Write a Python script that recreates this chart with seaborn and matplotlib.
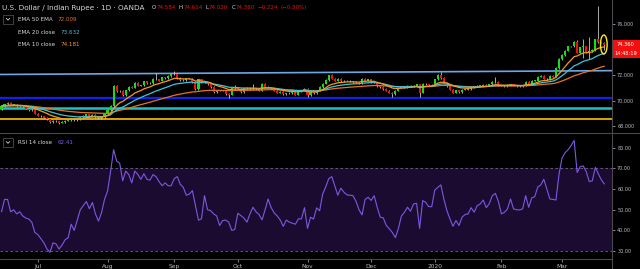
import numpy as np
import pandas as pd
import matplotlib
matplotlib.use("Agg")
import matplotlib.pyplot as plt
import seaborn as sns
from matplotlib.patches import Ellipse, Rectangle
from matplotlib.lines import Line2D
from matplotlib.ticker import FormatStrFormatter

# ---------------- data ----------------
first_open = 69.35
closes = [
    69.60, 69.75, 69.85, 69.70, 69.72, 69.60, 69.62, 69.60, 69.40, 69.30,
    69.32, 69.00, 68.85, 68.80, 68.70, 68.55, 68.35, 68.45, 68.42, 68.30,
    68.35, 68.45, 68.50, 68.60, 68.50, 68.58, 68.75, 68.85, 68.95, 68.82,
    68.90, 68.75, 68.65, 68.75, 69.00, 69.30, 69.60, 71.20, 70.75, 70.80,
    70.45, 70.85, 71.10, 71.05, 71.45, 71.20, 71.22, 71.55, 71.40, 71.42,
    71.75, 71.70, 71.60, 71.85, 71.80, 71.95, 72.10, 72.15, 71.80, 71.65,
    71.62, 71.78, 71.75, 71.50, 70.95, 71.70, 71.45, 71.45, 71.30, 71.10,
    70.70, 70.85, 70.80, 70.82, 70.55, 70.50, 71.00, 71.02, 70.95, 70.70,
    71.00, 71.05, 70.95, 71.00, 70.95, 70.80, 71.35, 71.10, 71.05, 71.00,
    70.80, 70.65, 70.70, 70.55, 70.60, 70.62, 70.85, 70.50, 70.75, 70.85,
    70.95, 70.45, 70.70, 70.60, 70.80, 71.10, 71.35, 71.65, 72.00, 71.75,
    71.60, 71.75, 71.55, 71.60, 71.58, 71.55, 71.50, 71.45, 71.40, 71.75,
    71.60, 71.70, 71.50, 71.45, 71.15, 71.10, 70.95, 70.80, 70.65, 70.55,
    70.80, 71.05, 71.05, 71.10, 71.20, 71.15, 71.20, 71.30, 70.65, 71.35,
    71.30, 71.25, 71.20, 71.70, 72.00, 71.80, 71.45, 71.15, 70.90, 70.65,
    70.85, 70.70, 70.90, 70.90, 70.95, 71.10, 71.15, 71.20, 71.20, 71.25,
    71.20, 71.30, 71.50, 71.50, 71.20, 71.20, 71.18, 71.25, 71.30, 71.20,
    71.15, 71.18, 71.20, 71.50, 71.35, 71.60, 71.60, 71.90, 71.95, 71.75,
    71.70, 71.95, 71.90, 72.55, 73.30, 73.60, 73.95, 74.30, 74.30, 74.65,
    73.80, 74.20, 74.30, 73.85, 73.90, 74.00, 74.85, 74.60, 74.584, 74.360,
]
wick_high = {51: 72.17, 57: 72.35, 77: 71.25, 83: 71.30, 109: 72.15, 144: 72.10,
             145: 72.25, 163: 71.85, 183: 72.70, 190: 74.75, 192: 74.90,
             194: 75.00, 197: 77.45, 199: 74.614}
wick_low = {19: 68.17, 64: 70.85, 75: 70.20, 101: 70.30, 129: 70.35, 138: 70.35,
            192: 73.40, 194: 73.30, 199: 74.02}

rsi = [
    49, 55, 55, 49, 50, 48, 49, 47, 46, 45.5,
    44, 39, 38, 36, 34, 31, 29.5, 34, 33.5, 31,
    33, 35.5, 36.5, 43, 40, 45, 50, 52, 54, 50.5,
    53.5, 48, 44.5, 48.5, 55, 59, 68.5, 79, 73.5, 72.5,
    64, 68.7, 67, 63, 68.7, 67, 64.7, 67.4, 64.7, 64.3,
    67, 66, 63.6, 61.6, 63, 61.6, 61.6, 65, 66, 62.3,
    60.8, 57, 57.6, 59.2, 52, 45, 45.6, 56.8, 50, 49.6,
    48, 47, 42.4, 44.8, 45, 44, 40, 40.5, 48.3, 47.2,
    46, 44, 48, 51.2, 49, 47.7, 45.1, 50, 55.2, 51,
    48.5, 47, 45, 42, 45, 44, 43.5, 43, 45.6, 45.6,
    51, 41, 46.4, 45.5, 50.9, 49.5, 57.6, 61, 65, 66,
    61.6, 57, 60.4, 58.5, 57.2, 57, 56.8, 54.1, 50, 47.5,
    55, 56, 54.5, 56.8, 51.2, 46.4, 46.1, 42.4, 40.8, 39,
    36.5, 41, 47, 48.8, 51.2, 49.3, 52.8, 53.1, 41, 54.4,
    53.6, 51.5, 51.5, 59.5, 60.8, 62, 55.2, 49.6, 45.6, 42,
    44.8, 42.4, 46.4, 47.7, 48, 51, 48.8, 52, 52.8, 54.7,
    51, 53, 56.8, 57.9, 54, 48, 48.8, 50.4, 55.2, 50.4,
    50, 49.9, 50.4, 56.8, 51.2, 55.7, 56.3, 61, 62, 64.7,
    60, 55.2, 55, 54.7, 67, 75, 77.5, 79, 81, 83.5,
    68, 70.8, 71.2, 68.4, 63.6, 64, 70.5, 67.3, 64.4, 62.41,
]

month_ticks = [12, 35, 57, 78, 101, 122, 143, 165, 185]
month_labels = ["Jul", "Aug", "Sep", "Oct", "Nov", "Dec", "2020", "Feb", "Mar"]
price_ticks = [76, 72, 70, 68]
rsi_ticks = [80, 70, 60, 50, 40, 30]
level_blue = 70.20
level_cyan = 69.47
level_gold = 68.60
trend_start, trend_end = 72.08, 72.38
ema_periods = [50, 20, 10]
legend_values = {"EMA 50 EMA": "72.009", "EMA 20 close": "73.632", "EMA 10 close": "74.181"}
ohlc_letters = ["O", "H", "L", "C"]
ohlc_values = ["74.584", "74.614", "74.020", "74.360"]
change_text = ["−0.224", "(−0.30%)"]
rsi_value = "62.41"
last_price_label = "74.360"
countdown_label = "14:48:19"

# ---------------- derived series ----------------
n = len(closes)
idx = np.arange(n)
c = np.array(closes)
o = np.concatenate([[first_open], c[:-1]])
df = pd.DataFrame({"i": idx, "close": c, "open": o, "rsi": rsi})
for p in ema_periods:
    df[f"ema{p}"] = df["close"].ewm(span=p, adjust=False).mean()
pad = 0.05
hi = np.maximum(o, c) + pad
lo = np.minimum(o, c) - pad
for k, v in wick_high.items():
    hi[k] = v
for k, v in wick_low.items():
    lo[k] = v

# ---------------- style ----------------
sns.set_theme(style="dark", rc={"axes.facecolor": "black", "figure.facecolor": "black",
                                "savefig.facecolor": "black", "axes.grid": False})
plt.rcParams["font.family"] = ["DejaVu Sans"]

W, H = 640, 269
fig = plt.figure(figsize=(6.4, 2.69), dpi=100, facecolor="black")


def P(x, y):
    return (x / W, 1 - y / H)


ax = fig.add_axes([0, 1 - 133 / H, 612 / W, 133 / H])
ax2 = fig.add_axes([0, 1 - 259 / H, 612 / W, 125 / H])
for a in (ax, ax2):
    a.set_facecolor("black")
    for s in a.spines.values():
        s.set_visible(False)
    a.set_xlim(-0.5, 201.5)

GREEN, RED, WICK = "#12e012", "#f01010", "#d8d8d8"
C_EMA50, C_EMA20, C_EMA10 = "#e8731c", "#3cc4dc", "#f59a1e"
TICKC = "#b8bcc6"

# levels
ax.axhline(level_blue, color="#1020f0", lw=1.6, zorder=1)
ax.axhline(level_cyan, color="#1fbfc4", lw=1.8, zorder=1)
ax.axhline(level_gold, color="#f0b000", lw=1.3, zorder=1)
ax.plot([-0.5, 201.5], [trend_start, trend_end], color="#6aa8e8", lw=1.2, zorder=1)

# candles
ax.vlines(idx, lo, hi, color=WICK, lw=0.55, zorder=2)
body_h = np.maximum(np.abs(c - o), 0.025)
cols = [GREEN if cc >= oo else RED for cc, oo in zip(c, o)]
ax.bar(idx, body_h, bottom=np.minimum(o, c), width=0.7, color=cols, linewidth=0, zorder=3)

# EMAs
sns.lineplot(data=df, x="i", y="ema50", ax=ax, color=C_EMA50, lw=0.9, zorder=4)
sns.lineplot(data=df, x="i", y="ema20", ax=ax, color=C_EMA20, lw=0.9, zorder=4)
sns.lineplot(data=df, x="i", y="ema10", ax=ax, color=C_EMA10, lw=0.9, zorder=4)

ax.add_patch(Ellipse((198.8, 74.43), width=2.2, height=1.49, fill=False,
                     edgecolor="#ffe81a", lw=1.0, zorder=6))

ax.set_ylim(67.49, 77.92)
ax.set_yticks(price_ticks)
ax.yaxis.set_major_formatter(FormatStrFormatter("%.3f"))
ax.yaxis.tick_right()
ax.tick_params(axis="y", colors=TICKC, labelsize=3.5, length=2.2, width=0.5, pad=1.5)
ax.set_xticks([])
ax.set_xlabel("")
ax.set_ylabel("")

# RSI panel
ax2.axhspan(30, 70, color="#1b0b30", zorder=0, lw=0)
ax2.axhline(70, color="#6c6c78", lw=0.6, ls=(0, (3, 3)), zorder=1)
ax2.axhline(30, color="#6c6c78", lw=0.6, ls=(0, (3, 3)), zorder=1)
sns.lineplot(data=df, x="i", y="rsi", ax=ax2, color="#7e57e2", lw=0.8, zorder=3)
ax2.set_ylim(26.2, 86.6)
ax2.set_yticks(rsi_ticks)
ax2.yaxis.set_major_formatter(FormatStrFormatter("%.2f"))
ax2.yaxis.tick_right()
ax2.tick_params(axis="y", colors=TICKC, labelsize=3.5, length=2.2, width=0.5, pad=1.5)
ax2.set_xticks(month_ticks)
ax2.set_xticklabels(month_labels)
ax2.tick_params(axis="x", colors=TICKC, labelsize=4.2, length=2, width=0.5, pad=1.5, bottom=True)
ax2.set_xlabel("")
ax2.set_ylabel("")

# frame lines
GL = "#4a4a4e"
fig.add_artist(Line2D([612 / W, 612 / W], [0, 1], color=GL, lw=0.8, transform=fig.transFigure))
fig.add_artist(Line2D([0, 1], [1 - 133 / H, 1 - 133 / H], color=GL, lw=0.8, transform=fig.transFigure))
fig.add_artist(Line2D([0, 612 / W], [1 - 259 / H, 1 - 259 / H], color=GL, lw=0.8, transform=fig.transFigure))

# header texts
WH = "#d6d8de"
fig.text(*P(1.5, 7.8), "U.S. Dollar / Indian Rupee · 1D · OANDA", color=WH, fontsize=5.2, va="center", ha="left")

renderer = fig.canvas.get_renderer()
segs = []
for L, v in zip(ohlc_letters, ohlc_values):
    segs.append((L, WH, 0.3))
    segs.append((v, RED, 3.2))
segs.append((change_text[0], RED, 2.2))
segs.append((change_text[1], RED, 0))
x = 151.7
for t, col, gap in segs:
    tt = fig.text(*P(x, 7.8), t, color=col, fontsize=4.0, va="center", ha="left")
    bb = tt.get_window_extent(renderer=renderer)
    x += bb.width + gap


def chevron_box(yc):
    x0, x1 = 3.3, 12.7
    y0, y1 = yc - 4.5, yc + 4.5
    fig.add_artist(Rectangle(P(x0, y1), (x1 - x0) / W, (y1 - y0) / H, transform=fig.transFigure,
                             facecolor="black", edgecolor="#5a5a60", lw=0.5))
    xs = [6.3, 8.0, 9.7]
    ys = [yc - 0.9, yc + 0.8, yc - 0.9]
    fig.add_artist(Line2D([x / W for x in xs], [1 - y / H for y in ys], color=WH, lw=0.6,
                          transform=fig.transFigure))


chevron_box(19.3)
rows = [("EMA 50 EMA", 19.3, 57.7, C_EMA50), ("EMA 20 close", 32.7, 60.7, C_EMA20),
        ("EMA 10 close", 44.0, 60.7, C_EMA10)]
for name, y, xv, col in rows:
    fig.text(*P(17.7, y), name, color=WH, fontsize=4.1, va="center", ha="left")
    fig.text(*P(xv, y), legend_values[name], color=col, fontsize=4.1, va="center", ha="left")

chevron_box(142.5)
fig.text(*P(17.7, 142.5), "RSI 14 close", color=WH, fontsize=4.1, va="center", ha="left")
fig.text(*P(57.3, 142.5), rsi_value, color="#7e57e2", fontsize=4.1, va="center", ha="left")

# last price label
fig.add_artist(Rectangle(P(613, 58.3), 27 / W, 17.8 / H, transform=fig.transFigure,
                         facecolor="#f01010", edgecolor="none"))
fig.text(*P(617, 45.0), last_price_label, color="white", fontsize=3.7, va="center", ha="left")
fig.text(*P(614.5, 53.8), countdown_label, color="white", fontsize=3.7, va="center", ha="left")

fig.savefig("out.png", dpi=100, facecolor="black")
